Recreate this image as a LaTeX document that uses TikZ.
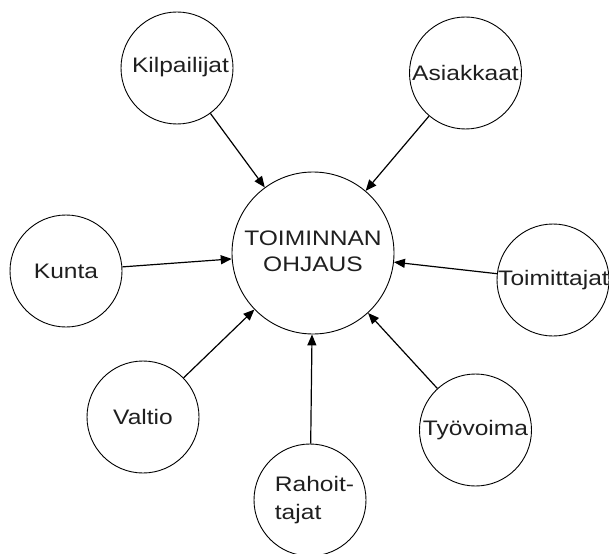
\documentclass[tikz,border=0pt]{standalone}
\usepackage{fontspec}
\setmainfont{Liberation Sans}[FakeStretch=1.17]
\usetikzlibrary{arrows.meta}
\definecolor{ink}{rgb}{0.12,0.12,0.12}
\begin{document}
\begin{tikzpicture}[x=1pt,y=-1pt,
  every node/.style={font=\fontsize{21}{27}\selectfont, text=ink},
  actor/.style={circle,draw=black,line width=0.9pt,minimum size=112pt,inner sep=0pt},
  hub/.style={circle,draw=black,line width=0.9pt,minimum size=162pt,inner sep=0pt},
  conn/.style={draw=black,line width=1.2pt,-{Triangle[length=11pt,width=9pt]}}]
  \useasboundingbox (0,0) rectangle (609,553);

  % central node
  \node[hub] (ohjaus) at (313,253) {\raisebox{-3.5pt}{\begin{tabular}{@{}c@{}}TOIMINNAN\\[-1.5pt]OHJAUS\end{tabular}}};

  % surrounding actors
  \node[actor] (kilp) at (177,68) {\raisebox{7pt}{\makebox[0pt]{\hspace*{7pt}Kilpailijat}}};
  \node[actor] (asiak) at (465.5,73) {\makebox[0pt]{Asiakkaat}};
  \node[actor] (kunta) at (66,271) {\makebox[0pt]{Kunta}};
  \node[actor] (toimitt) at (553,280) {\makebox[0pt]{\hspace*{1pt}Toimittajat}};
  \node[actor] (valtio) at (143,417) {\makebox[0pt]{Valtio}};
  \node[actor] (rahoit) at (310,500) {\makebox[0pt]{\hspace*{9pt}\begin{tabular}{@{}l@{}}Rahoit-\\[1.5pt]tajat\end{tabular}}};
  \node[actor] (tyov) at (475.5,430) {\raisebox{-2pt}{\makebox[0pt]{Työvoima}}};

  % influences
  \foreach \src in {kilp,asiak,kunta,toimitt,valtio,rahoit,tyov}
    \draw[conn] (\src) -- (ohjaus);
\end{tikzpicture}
\end{document}
